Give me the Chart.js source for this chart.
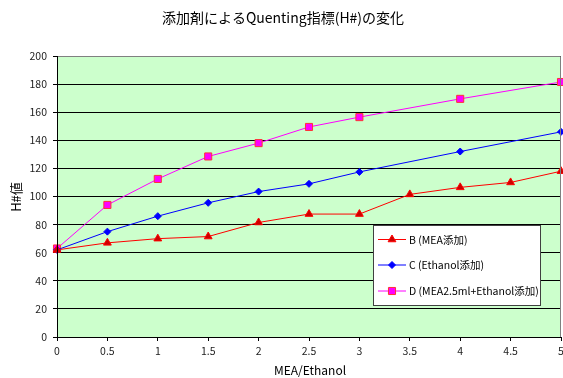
<!DOCTYPE html>
<html>
<head>
<meta charset="utf-8">
<script src="https://cdn.jsdelivr.net/npm/chart.js@4/dist/chart.umd.min.js"></script>
<style>
  html, body { margin: 0; padding: 0; background: #fff; }
  #wrap { width: 563px; height: 378px; position: relative; }
</style>
</head>
<body>
<div id="wrap"><canvas id="c" width="563" height="378"></canvas></div>
<script>
const chartTitle = '添加剤によるQuenting指標(H#)の変化';
const xTitle = 'MEA/Ethanol';
const yTitle = 'H#値';

// MEA / Ethanol amounts
const xB = [0, 0.5, 1, 1.5, 2, 2.5, 3, 3.5, 4, 4.5, 5];
const xCD = [0, 0.5, 1, 1.5, 2, 2.5, 3, 4, 5];

// H# values
const seriesB = [62, 67, 70, 71.5, 81.5, 87.5, 87.5, 101.5, 106.5, 110, 118];
const seriesC = [62, 75, 86, 95.5, 103.5, 109, 117.5, 132, 146];
const seriesD = [63, 94, 112.5, 128.5, 138, 149.5, 156.5, 169.5, 181.5];

const labelB = 'B (MEA添加)';
const labelC = 'C (Ethanol添加)';
const labelD = 'D (MEA2.5ml+Ethanol添加)';

const FONT = '"Noto Sans CJK JP", "Noto Sans", sans-serif';

const pts = (xs, ys) => xs.map((x, i) => ({ x, y: ys[i] }));

const bgPlugin = {
  id: 'plotBg',
  beforeDraw(chart) {
    const { ctx, chartArea: a } = chart;
    ctx.save();
    ctx.fillStyle = '#CCFFCC';
    ctx.fillRect(a.left, a.top, a.right - a.left, a.bottom - a.top);
    ctx.restore();
  },
  afterDatasetsDraw(chart) {
    const { ctx, chartArea: a } = chart;
    ctx.save();
    ctx.lineWidth = 1;
    ctx.strokeStyle = '#808080';
    ctx.beginPath();
    ctx.moveTo(a.left, a.top + 0.5);
    ctx.lineTo(a.right - 0.5, a.top + 0.5);
    ctx.lineTo(a.right - 0.5, a.bottom);
    ctx.stroke();
    ctx.strokeStyle = '#000';
    ctx.beginPath();
    ctx.moveTo(a.left + 0.5, a.top);
    ctx.lineTo(a.left + 0.5, a.bottom + 0.5);
    ctx.lineTo(a.right, a.bottom + 0.5);
    ctx.stroke();
    ctx.restore();
  },
  afterDraw(chart) {
    const { ctx } = chart;
    ctx.save();
    // titles
    ctx.fillStyle = '#000';
    ctx.textAlign = 'center';
    ctx.textBaseline = 'middle';
    ctx.font = '14px ' + FONT;
    ctx.fillText(chartTitle, 283, 18);
    ctx.font = '12px ' + FONT;
    ctx.fillText(xTitle, 310, 370);
    ctx.save();
    ctx.translate(16, 197);
    ctx.rotate(-Math.PI / 2);
    ctx.font = '13px ' + FONT;
    ctx.fillText(yTitle, 0, 0);
    ctx.restore();

    // legend box
    const bx = 373, by = 225, bw = 167, bh = 80;
    ctx.fillStyle = '#fff';
    ctx.fillRect(bx, by, bw, bh);
    ctx.strokeStyle = '#404040';
    ctx.lineWidth = 1;
    ctx.strokeRect(bx + 0.5, by + 0.5, bw, bh);
    const rows = [239, 264.5, 290.5];
    ctx.font = '10.5px ' + FONT;
    ctx.textAlign = 'left';
    chart.data.datasets.forEach((ds, i) => {
      const y = rows[i];
      ctx.strokeStyle = ds.borderColor;
      ctx.lineWidth = 1;
      ctx.beginPath();
      ctx.moveTo(378, y + 0.5);
      ctx.lineTo(406, y + 0.5);
      ctx.stroke();
      ctx.save();
      ctx.fillStyle = ds.pointBackgroundColor;
      ctx.strokeStyle = ds.pointBorderColor;
      ctx.lineWidth = ds.pointBorderWidth;
      Chart.helpers.drawPoint(ctx, {
        pointStyle: ds.pointStyle,
        radius: ds.pointRadius,
        rotation: 0,
        borderWidth: ds.pointBorderWidth
      }, 392, y + 0.5);
      ctx.restore();
      ctx.fillStyle = '#000';
      ctx.textBaseline = 'middle';
      ctx.fillText(ds.label, 409, y + 1);
    });
    ctx.restore();
  }
};

new Chart(document.getElementById('c'), {
  type: 'line',
  data: {
    datasets: [
      {
        label: labelB,
        data: pts(xB, seriesB),
        borderColor: '#FF0000',
        borderWidth: 1,
        pointStyle: 'triangle',
        pointRadius: 4.5,
        pointBackgroundColor: '#CC0000',
        pointBorderColor: '#FF0000',
        pointBorderWidth: 1
      },
      {
        label: labelC,
        data: pts(xCD, seriesC),
        borderColor: '#0000FF',
        borderWidth: 1,
        pointStyle: 'rectRot',
        pointRadius: 3.5,
        pointBackgroundColor: '#0000FF',
        pointBorderColor: '#0000FF',
        pointBorderWidth: 1
      },
      {
        label: labelD,
        data: pts(xCD, seriesD),
        borderColor: '#FF00FF',
        borderWidth: 1,
        pointStyle: 'rect',
        pointRadius: 5,
        pointBackgroundColor: '#FF00FF',
        pointBorderColor: '#FF3333',
        pointBorderWidth: 1
      }
    ]
  },
  options: {
    responsive: false,
    animation: false,
    clip: false,
    layout: { autoPadding: false, padding: { top: 56, right: 2, left: 0, bottom: 0 } },
    plugins: {
      legend: { display: false },
      title: { display: false },
      tooltip: { enabled: false }
    },
    scales: {
      x: {
        type: 'linear',
        min: 0,
        max: 5,
        afterFit(s) { s.height = 41; s.paddingLeft = 0; s.paddingRight = 0; },
        ticks: {
          stepSize: 0.5,
          color: '#222',
          font: { family: FONT, size: 10.5 },
          padding: 4,
          maxRotation: 0,
          autoSkip: false,
          callback: (v) => String(Number(v))
        },
        grid: { drawOnChartArea: false, color: '#000', tickLength: 4 },
        border: { display: false }
      },
      y: {
        min: 0,
        max: 200,
        afterFit(s) { s.width = 57; s.paddingTop = 0; s.paddingBottom = 0; },
        ticks: {
          stepSize: 20,
          color: '#222',
          font: { family: FONT, size: 10.5 },
          padding: 6
        },
        grid: { color: '#000', lineWidth: 1, tickLength: 4 },
        border: { display: false }
      }
    }
  },
  plugins: [bgPlugin]
});
</script>
</body>
</html>
